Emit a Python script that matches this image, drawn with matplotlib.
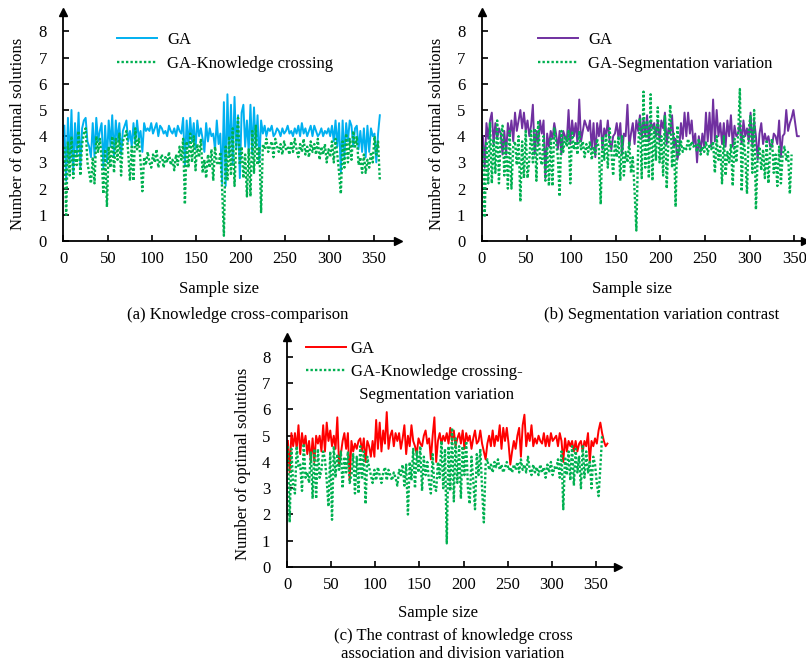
import numpy as np
import matplotlib
matplotlib.use("Agg")
import matplotlib.pyplot as plt
from matplotlib.lines import Line2D

plt.rcParams['font.family'] = ['Liberation Serif', 'DejaVu Serif']
plt.rcParams['font.size'] = 12

# ---- data (one value every 2 samples) ----
ga_a = [4.4, 2.3, 4.7, 3.0, 5.0, 2.6, 4.5, 3.3, 4.9, 2.8, 4.3, 4.6, 4.7, 3.8, 3.6, 3.2, 4.5, 3.2,
        4.7, 3.8, 4.2, 4.5, 2.8, 4.4, 3.0, 4.6, 3.6, 4.8, 3.2, 4.6, 3.8, 4.5, 3.3, 4.2, 4.4, 4.6,
        3.8, 4.2, 3.6, 4.5, 3.7, 4.6, 3.9, 4.2, 3.4, 4.5, 4.2, 4.3, 4.2, 4.5, 4.1, 4.3, 4.5, 4.0,
        4.4, 4.3, 4.1, 4.2, 4.0, 4.4, 4.2, 4.1, 4.3, 4.0, 4.4, 4.2, 4.1, 4.7, 2.9, 4.6, 3.6, 4.7,
        3.8, 4.5, 3.5, 4.6, 4.0, 4.3, 3.9, 3.4, 4.5, 3.8, 4.3, 4.0, 4.1, 3.5, 4.6, 3.7, 4.1, 2.2,
        5.3, 2.1, 5.6, 3.2, 5.2, 2.9, 5.5, 3.5, 4.8, 2.4, 4.9, 5.2, 3.6, 4.6, 3.4, 5.2, 3.3, 5.1,
        3.6, 4.8, 3.0, 4.6, 4.1, 4.4, 4.0, 4.3, 4.2, 4.4, 4.0, 4.1, 4.3, 4.2, 4.0, 4.3, 4.1, 4.2,
        4.4, 4.1, 4.2, 4.0, 4.3, 4.1, 4.4, 4.0, 4.5, 4.1, 4.3, 4.0, 4.2, 4.4, 4.0, 4.4, 4.2, 4.0,
        4.1, 4.3, 4.0, 4.2, 4.1, 4.3, 4.0, 4.4, 3.8, 4.6, 3.6, 4.5, 2.6, 4.6, 3.2, 4.5, 3.8, 4.6,
        4.4, 3.6, 4.3, 4.4, 3.5, 4.2, 3.4, 4.3, 3.2, 4.4, 3.4, 4.3, 4.0, 4.1, 3.0, 4.1, 4.8]
kc_a = [3.6, 1.0, 3.8, 2.5, 4.0, 2.4, 3.5, 2.9, 4.2, 2.5, 3.7, 4.1, 4.3, 3.0, 2.6, 2.2, 3.2, 2.2,
        4.0, 3.4, 3.9, 3.2, 1.8, 3.5, 1.3, 3.6, 2.8, 4.0, 2.6, 3.9, 3.1, 4.1, 2.5, 3.8, 4.0, 4.2,
        3.4, 2.3, 3.6, 2.3, 4.3, 3.5, 3.9, 3.0, 1.9, 3.2, 2.9, 3.4, 3.0, 2.8, 3.3, 3.0, 3.5, 2.8,
        3.1, 3.3, 2.8, 3.2, 3.0, 3.4, 2.9, 3.1, 2.7, 3.3, 2.9, 3.6, 3.1, 3.9, 1.4, 3.8, 2.8, 4.1,
        3.0, 4.0, 2.7, 3.7, 3.2, 3.9, 2.6, 3.1, 2.4, 3.3, 2.8, 3.5, 2.3, 3.6, 3.0, 2.9, 3.4, 2.0,
        0.2, 3.6, 2.3, 4.0, 2.5, 4.3, 2.1, 3.8, 4.7, 2.9, 3.6, 2.4, 3.3, 1.7, 3.5, 1.7, 4.2, 2.6,
        4.4, 2.9, 3.6, 1.1, 3.7, 3.5, 3.9, 3.4, 3.6, 3.8, 3.2, 3.9, 3.6, 3.4, 3.7, 3.3, 3.8, 3.5,
        3.6, 3.3, 3.8, 3.4, 3.9, 3.5, 3.2, 3.7, 3.4, 3.9, 3.3, 3.6, 3.2, 3.8, 3.4, 3.7, 3.3, 3.9,
        3.1, 3.6, 3.3, 3.7, 3.0, 3.5, 3.2, 3.8, 3.0, 3.9, 3.3, 2.6, 1.8, 3.8, 2.8, 4.1, 3.0, 3.9,
        3.1, 4.2, 3.6, 4.0, 2.9, 3.2, 2.6, 3.3, 2.6, 3.1, 2.8, 3.4, 3.0, 4.0, 3.3, 3.8, 2.3]

ga_b = [4.0, 2.8, 4.5, 3.9, 4.6, 4.9, 3.7, 4.5, 3.9, 4.3, 4.1, 3.3, 4.2, 3.3, 4.5, 4.0, 4.6, 3.8,
        4.9, 4.2, 4.6, 5.0, 4.3, 4.9, 4.2, 4.6, 4.0, 4.4, 5.2, 3.3, 4.2, 3.7, 4.6, 4.1, 4.6, 2.4,
        4.1, 3.6, 4.2, 3.9, 4.5, 4.1, 3.5, 4.2, 3.3, 4.2, 4.0, 3.8, 5.0, 3.7, 4.6, 4.0, 4.5, 3.7,
        5.4, 3.8, 4.2, 4.6, 4.4, 4.2, 4.6, 3.5, 4.5, 3.2, 4.5, 4.0, 4.6, 3.5, 4.3, 4.0, 4.6, 3.8,
        3.5, 4.0, 4.1, 4.5, 3.9, 4.5, 3.3, 4.1, 4.0, 5.2, 3.6, 4.1, 4.5, 3.7, 4.6, 4.2, 4.8, 3.9,
        4.7, 4.0, 4.8, 3.8, 4.6, 4.3, 4.5, 4.0, 4.6, 3.8, 4.6, 4.3, 4.9, 3.7, 4.3, 4.1, 4.8, 3.6,
        3.9, 3.1, 3.5, 4.5, 3.9, 4.9, 4.0, 4.9, 4.1, 4.6, 3.7, 4.1, 3.0, 4.0, 3.4, 4.1, 3.6, 4.9,
        3.8, 4.9, 3.6, 5.4, 3.8, 5.0, 4.0, 4.5, 3.7, 4.5, 3.6, 4.6, 4.0, 4.8, 3.6, 4.4, 4.0, 4.1,
        4.5, 3.7, 4.6, 4.0, 4.3, 3.8, 4.9, 3.6, 4.6, 4.0, 3.1, 4.1, 4.5, 3.7, 4.1, 3.8, 4.0, 3.6,
        3.6, 4.1, 4.0, 3.7, 4.6, 3.2, 4.0, 4.1, 5.0, 4.2, 4.5, 4.7, 5.0, 4.5, 4.0, 4.0]
sv_b = [3.6, 0.9, 3.8, 2.2, 4.5, 2.2, 3.9, 2.6, 4.6, 2.2, 4.0, 4.4, 2.5, 3.8, 2.0, 4.2, 2.0, 3.6,
        3.8, 2.9, 4.0, 1.5, 3.8, 2.4, 4.2, 2.4, 3.1, 4.2, 3.0, 4.3, 2.3, 4.6, 3.2, 2.9, 4.0, 2.3,
        3.6, 2.1, 3.9, 2.1, 4.3, 3.8, 3.2, 1.7, 4.2, 3.4, 4.0, 3.6, 4.2, 2.2, 4.2, 3.5, 3.8, 3.3,
        4.2, 3.5, 3.8, 3.2, 3.7, 3.4, 3.8, 3.1, 3.6, 3.3, 3.9, 3.5, 1.4, 4.0, 3.1, 4.1, 2.8, 4.3,
        3.4, 2.5, 3.8, 3.2, 4.0, 2.3, 4.0, 2.5, 3.4, 3.0, 3.8, 2.6, 3.2, 1.9, 0.4, 3.6, 4.7, 2.4,
        5.7, 2.8, 4.6, 2.4, 5.6, 2.3, 4.4, 3.1, 5.1, 3.0, 4.0, 2.5, 4.8, 2.0, 3.9, 5.2, 2.8, 4.1,
        1.3, 4.4, 3.3, 3.8, 3.4, 3.6, 3.5, 3.9, 3.5, 3.8, 3.6, 3.7, 3.4, 3.9, 3.3, 3.6, 3.4, 3.8,
        3.3, 3.7, 3.5, 3.8, 2.6, 4.0, 3.1, 3.6, 2.2, 4.0, 2.5, 3.4, 3.0, 3.7, 2.1, 3.9, 3.0, 4.0,
        5.8, 1.9, 4.0, 3.3, 1.8, 4.3, 4.8, 2.6, 5.0, 1.2, 3.3, 3.6, 2.7, 3.5, 2.4, 3.8, 2.2, 3.5,
        3.9, 2.6, 3.3, 2.1, 3.6, 2.2, 3.3, 3.6, 3.1, 3.4, 1.8, 3.3]

ga_c = [4.8, 3.6, 5.1, 4.6, 5.1, 4.5, 5.4, 4.3, 5.1, 4.6, 5.0, 4.3, 4.8, 4.0, 4.9, 4.0, 5.0, 4.7,
        5.0, 4.4, 5.4, 4.4, 5.5, 4.8, 5.2, 4.6, 5.0, 4.5, 5.7, 3.9, 4.3, 4.8, 5.1, 4.5, 5.1, 3.3,
        4.8, 4.4, 4.7, 4.5, 4.8, 4.9, 4.4, 4.9, 4.0, 4.8, 4.6, 4.2, 4.8, 4.2, 5.6, 4.5, 5.5, 4.4,
        5.2, 4.7, 5.9, 4.5, 5.0, 5.2, 4.6, 5.1, 4.8, 5.1, 4.5, 4.9, 5.4, 4.3, 5.0, 4.6, 5.4, 4.8,
        4.6, 4.3, 4.9, 4.7, 4.6, 5.0, 5.2, 4.7, 4.9, 4.1, 5.0, 5.7, 4.0, 4.8, 5.1, 4.7, 5.0, 4.8,
        5.1, 4.7, 5.3, 4.8, 5.2, 4.6, 4.9, 5.1, 4.7, 5.2, 4.5, 5.1, 4.8, 5.0, 4.5, 4.9, 5.2, 4.7,
        4.8, 5.2, 4.7, 4.4, 4.1, 4.7, 5.0, 4.6, 5.2, 4.6, 5.0, 4.8, 5.4, 4.5, 5.3, 4.8, 5.3, 4.7,
        3.9, 4.4, 4.8, 4.5, 5.0, 5.3, 4.2, 5.4, 5.8, 4.6, 5.1, 4.8, 5.4, 4.6, 4.9, 4.7, 5.0, 4.8,
        4.7, 5.1, 4.6, 5.0, 4.6, 5.1, 4.8, 4.9, 5.0, 4.6, 5.1, 4.8, 4.0, 4.9, 4.4, 4.8, 4.6, 4.8,
        4.4, 4.8, 4.4, 4.7, 4.8, 4.4, 4.8, 4.6, 5.1, 4.0, 4.8, 4.6, 4.9, 4.7, 5.2, 5.5, 5.1, 4.8,
        4.6, 4.7]
kcsv_c = [4.6, 1.7, 4.5, 3.1, 2.8, 4.6, 3.8, 3.9, 2.9, 4.7, 3.4, 3.6, 3.2, 4.4, 2.6, 4.5, 2.6, 4.5,
          3.4, 3.7, 4.4, 4.1, 3.3, 2.3, 4.4, 1.8, 4.6, 3.4, 4.3, 3.7, 4.4, 3.0, 4.2, 3.6, 4.4, 3.2,
          3.5, 4.3, 2.8, 4.2, 2.8, 4.6, 3.4, 4.4, 2.4, 4.2, 3.8, 3.5, 3.2, 3.7, 3.3, 3.8, 3.5, 3.2,
          3.6, 3.8, 3.3, 3.7, 3.5, 3.3, 3.6, 3.4, 3.1, 3.7, 3.5, 3.9, 3.1, 3.9, 2.0, 4.0, 3.3, 4.5,
          3.0, 4.4, 3.6, 4.6, 2.9, 4.2, 3.5, 4.0, 3.2, 2.8, 4.3, 3.0, 2.9, 4.0, 3.4, 4.8, 3.0, 4.5,
          0.9, 4.6, 2.9, 5.3, 2.5, 4.9, 3.2, 4.6, 2.6, 4.6, 3.5, 4.8, 3.0, 2.4, 4.2, 3.3, 2.2, 4.3,
          3.5, 4.5, 3.0, 1.7, 3.9, 4.1, 3.7, 3.9, 3.6, 4.0, 3.8, 4.1, 3.7, 3.9, 3.6, 3.8, 4.0, 3.7,
          3.8, 3.6, 3.9, 3.7, 4.0, 3.6, 4.1, 3.7, 3.9, 3.6, 4.2, 3.7, 3.5, 3.9, 3.6, 3.8, 3.5, 3.9,
          3.6, 3.8, 3.4, 3.9, 3.6, 4.0, 3.5, 3.8, 3.7, 4.1, 3.4, 4.4, 2.2, 4.2, 3.5, 4.4, 3.3, 4.6,
          3.1, 4.5, 3.6, 4.2, 3.0, 4.6, 3.4, 4.4, 3.6, 4.0, 3.0, 4.2, 3.9, 3.2, 2.7, 3.8, 5.0]

xticks = [0, 50, 100, 150, 200, 250, 300, 350]
yticks = [0, 1, 2, 3, 4, 5, 6, 7, 8]

W, H = 806, 666
fig = plt.figure(figsize=(W / 100, H / 100), dpi=100)
fs = 12


def px_axes(left, bottom, right, top):
    return fig.add_axes([left / W, 1 - bottom / H, (right - left) / W, (bottom - top) / H])


def sample(vals):
    return np.arange(1, 2 * len(vals), 2)


def panel(ax, xmax, ymax, ga, other, ga_color, labels, leg_anchor, textpad=0.6, spacing=0.5):
    l1, = ax.plot(sample(ga), ga, color=ga_color, lw=1.4)
    l2, = ax.plot(sample(other), other, color='#00B050', lw=1.7, ls=(0, (1, 0.9)))
    ax.set_xlim(0, xmax)
    ax.set_ylim(0, ymax)
    ax.set_xticks(xticks)
    ax.set_yticks(yticks)
    for s in ['top', 'right']:
        ax.spines[s].set_visible(False)
    for s in ['left', 'bottom']:
        ax.spines[s].set_linewidth(1.3)
    ax.tick_params(direction='in', length=4, width=1.2, labelsize=fs)
    ax.tick_params(axis='x', pad=7)
    ax.tick_params(axis='y', pad=12)
    ax.plot(1, 0, '>k', transform=ax.transAxes, clip_on=False, ms=6)
    ax.plot(0, 1, '^k', transform=ax.transAxes, clip_on=False, ms=6)
    handles = [l1, l2] + [Line2D([], [], color='none')] * (len(labels) - 2)
    ax.legend(handles, labels, loc='upper left', bbox_to_anchor=leg_anchor, frameon=False,
              handlelength=2.4, handletextpad=textpad, labelspacing=spacing,
              borderpad=0, borderaxespad=0, fontsize=fs)
    return ax


ax_a = px_axes(63.5, 241, 398, 12)
panel(ax_a, 377.5, 8.74, ga_a, kc_a, '#00B0F0', ['GA', 'GA-Knowledge crossing'], (0.16, 0.913))

ax_b = px_axes(482, 241, 805, 12)
panel(ax_b, 362, 8.74, ga_b, sv_b, '#7030A0', ['GA', 'GA-Segmentation variation'], (0.173, 0.913))

ax_c = px_axes(287, 567, 618, 337)
panel(ax_c, 375, 8.76, ga_c, kcsv_c, '#FF0000',
      ['GA', 'GA-Knowledge crossing-', '  Segmentation variation'], (0.057, 0.982),
      textpad=0.3, spacing=0.42)

ylab = 'Number of optimal solutions'
fig.text(18 / W, 1 - 134 / H, ylab, rotation=90, ha='center', va='center', fontsize=fs)
fig.text(437 / W, 1 - 134 / H, ylab, rotation=90, ha='center', va='center', fontsize=fs)
fig.text(243 / W, 1 - 464 / H, ylab, rotation=90, ha='center', va='center', fontsize=fs)

fig.text(219 / W, 1 - 289 / H, 'Sample size', ha='center', va='center', fontsize=fs)
fig.text(632 / W, 1 - 289 / H, 'Sample size', ha='center', va='center', fontsize=fs)
fig.text(438 / W, 1 - 613 / H, 'Sample size', ha='center', va='center', fontsize=fs)

fig.text(238 / W, 1 - 315 / H, '(a) Knowledge cross-comparison', ha='center', va='center', fontsize=fs)
fig.text(662 / W, 1 - 315 / H, '(b) Segmentation variation contrast', ha='center', va='center', fontsize=fs)
fig.text(453 / W, 1 - 645 / H, '(c) The contrast of knowledge cross\nassociation and division variation',
         ha='center', va='center', fontsize=fs, linespacing=1.15)

fig.savefig('out.png', dpi=100)
